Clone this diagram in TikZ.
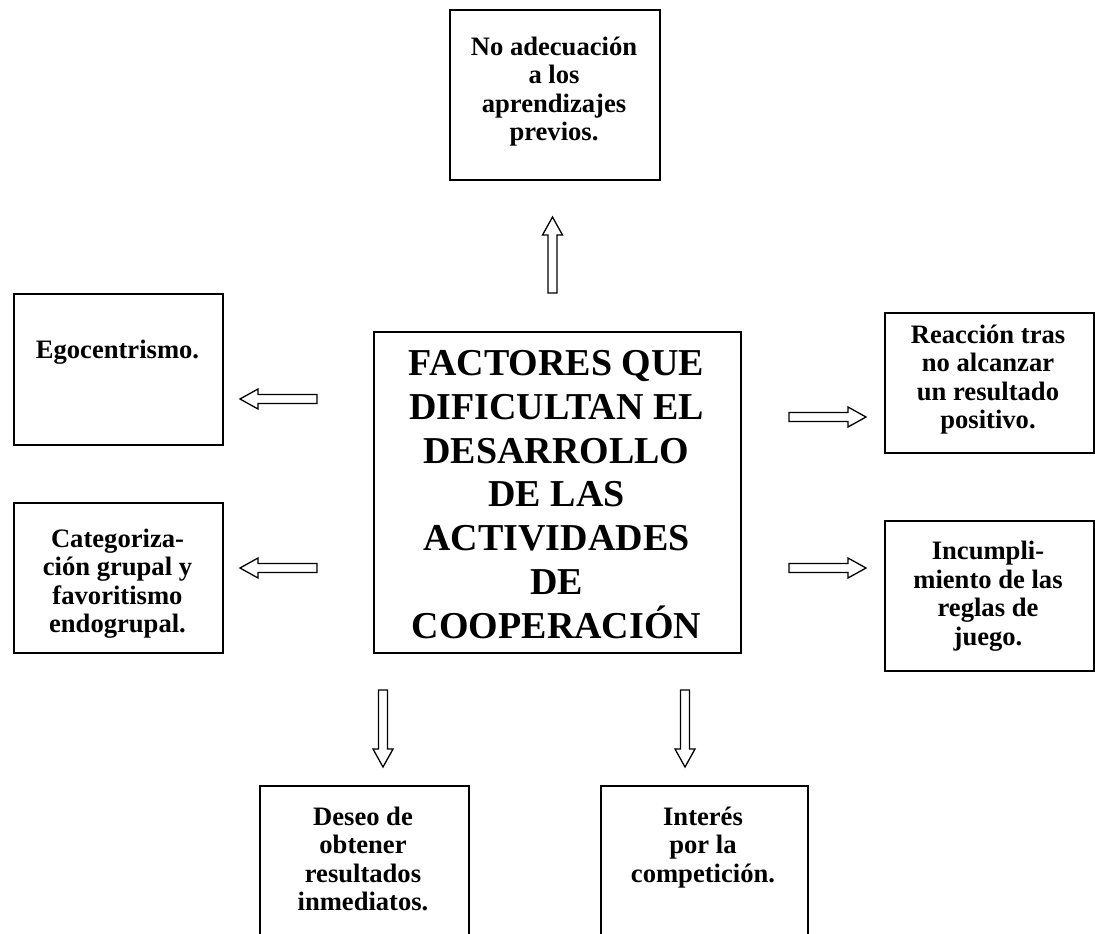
\documentclass[tikz,border=0pt]{standalone}
\usepackage{fontspec}
\setmainfont{Liberation Serif}
\begin{document}
\begin{tikzpicture}[x=1pt,y=-1pt,
  box/.style={draw=black, line width=1.6pt, fill=white, inner sep=0pt, anchor=north west},
  txt/.style={font=\bfseries\fontsize{26.6}{28.5}\selectfont, align=center, inner sep=0pt, anchor=base},
  bigtxt/.style={font=\bfseries\fontsize{38}{43.7}\selectfont, align=center, inner sep=0pt, anchor=base},
  barrow/.style={draw=black, line width=1.3pt, fill=white, line join=miter}]
\useasboundingbox (0,0) rectangle (1095,934);
\clip (0,0) rectangle (1095,934);
% boxes
\node[box, minimum width=210pt, minimum height=170pt] (prev) at (449,9) {};
\node[box, minimum width=209pt, minimum height=151pt] (ego) at (13,293) {};
\node[box, minimum width=209pt, minimum height=150pt] (cat) at (13,502) {};
\node[box, minimum width=209pt, minimum height=140pt] (reac) at (884,312) {};
\node[box, minimum width=209pt, minimum height=150pt] (inc) at (884,520) {};
\node[box, minimum width=367pt, minimum height=321pt] (main) at (373,331) {};
\node[box, minimum width=209pt, minimum height=200pt] (deseo) at (259,785) {};
\node[box, minimum width=207pt, minimum height=200pt] (inter) at (600,785) {};
% texts (anchor = baseline of the last line)
\node[txt] (prevT) at (554,140.5) {No adecuación\\a los\\aprendizajes\\previos.};
\node[txt] (egoT) at (117.5,358) {Egocentrismo.};
\node[txt] (catT) at (117.5,632.5) {Categoriza-\\ción grupal y\\favoritismo\\endogrupal.};
\node[txt] (reacT) at (988,428.5) {Reacción tras\\no alcanzar\\un resultado\\positivo.};
\node[txt] (incT) at (988,645) {Incumpli-\\miento de las\\reglas de\\juego.};
\node[bigtxt] (mainT) at (556.5,638) {FACTORES QUE\\DIFICULTAN EL\\DESARROLLO\\DE LAS\\ACTIVIDADES\\DE\\COOPERACIÓN};
\node[txt] (deseoT) at (363,910.5) {Deseo de\\obtener\\resultados\\inmediatos.};
\node[txt] (interT) at (703,882) {Interés\\por la\\competición.};
% block arrows (tips)
\coordinate (aUp) at (552.5,217);
\coordinate (aL1) at (240,399);
\coordinate (aL2) at (240,568);
\coordinate (aR1) at (866,417);
\coordinate (aR2) at (866,568);
\coordinate (aD1) at (383,767);
\coordinate (aD2) at (685,767);
\draw[barrow] (aUp) -- ++(10,18) -- ++(-5.5,0) -- ++(0,58) -- ++(-9,0) -- ++(0,-58) -- ++(-5.5,0) -- cycle;
\foreach \t in {aL1,aL2}{
  \draw[barrow] (\t) -- ++(18,-10) -- ++(0,5.5) -- ++(59,0) -- ++(0,9) -- ++(-59,0) -- ++(0,5.5) -- cycle;}
\foreach \t in {aR1,aR2}{
  \draw[barrow] (\t) -- ++(-18,-10) -- ++(0,5.5) -- ++(-59,0) -- ++(0,9) -- ++(59,0) -- ++(0,5.5) -- cycle;}
\foreach \t in {aD1,aD2}{
  \draw[barrow] (\t) -- ++(10,-18) -- ++(-5.5,0) -- ++(0,-59) -- ++(-9,0) -- ++(0,59) -- ++(-5.5,0) -- cycle;}
\end{tikzpicture}
\end{document}
